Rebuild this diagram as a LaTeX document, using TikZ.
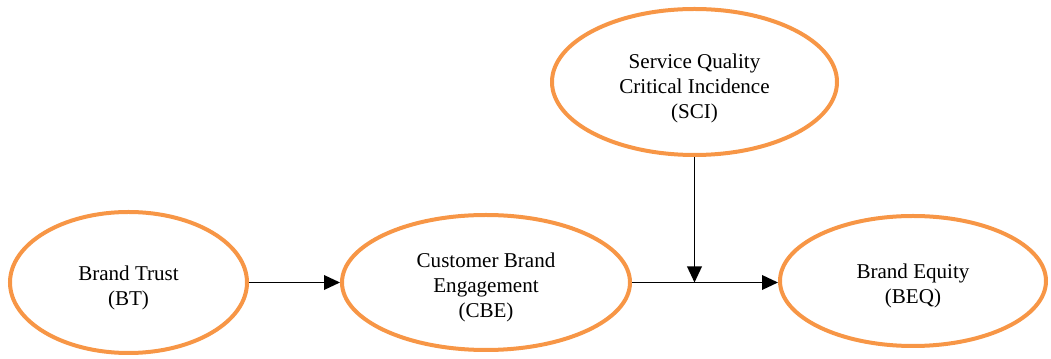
\documentclass[tikz,border=0pt]{standalone}
\usepackage{fontspec}
\setmainfont{Liberation Serif}
\usetikzlibrary{shapes.geometric,arrows.meta}
\definecolor{accentorange}{HTML}{F79646}
\begin{document}
\begin{tikzpicture}[x=0.75pt,y=-0.75pt,
  construct/.style={ellipse, draw=accentorange, line width=3pt, inner sep=0pt},
  conname/.style={align=center, inner sep=0pt, font=\fontsize{15.8}{18.75}\selectfont},
  link/.style={line width=1.1pt, -{Triangle[length=12pt,width=11pt]}}]
\useasboundingbox (0,0) rectangle (1051,359);

% constructs of the model
\node[construct, minimum width=177.75pt, minimum height=105.75pt] (BT) at (128.5,282.5) {};
\node[construct, minimum width=216pt, minimum height=101.25pt] (CBE) at (486,282.5) {};
\node[construct, minimum width=213.75pt, minimum height=109.5pt] (SCI) at (694.5,82) {};
\node[construct, minimum width=199.5pt, minimum height=97.5pt] (BEQ) at (913,281) {};

% their names, set a little below each centre
\node[conname] (BTname) at ([yshift=-3.8pt]BT.center) {Brand Trust\\(BT)};
\node[conname] (CBEname) at ([yshift=-3.4pt]CBE.center) {Customer Brand\\Engagement\\(CBE)};
\node[conname] (SCIname) at ([yshift=-4.5pt]SCI.center) {Service Quality\\Critical Incidence\\(SCI)};
\node[conname] (BEQname) at ([yshift=-3.4pt]BEQ.center) {Brand Equity\\(BEQ)};

% moderating arrow meets the main path here
\coordinate (J) at (SCI.south |- CBE.east);

% paths
\draw[link] (BT.east) -- (CBE.west);
\draw[link] (CBE.east) -- (CBE.east -| BEQ.west);
\draw[link] (SCI.south) -- (J);
\end{tikzpicture}
\end{document}
